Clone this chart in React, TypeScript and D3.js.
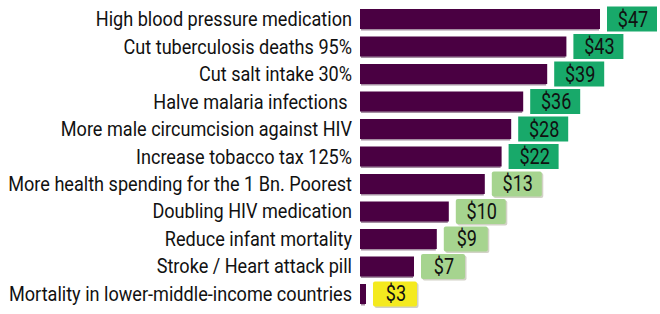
import React from "react";
import * as d3 from "d3";

const categories = [
  "High blood pressure medication",
  "Cut tuberculosis deaths 95%",
  "Cut salt intake 30%",
  "Halve malaria infections ",
  "More male circumcision against HIV",
  "Increase tobacco tax 125%",
  "More health spending for the 1 Bn. Poorest",
  "Doubling HIV medication",
  "Reduce infant mortality",
  "Stroke / Heart attack pill",
  "Mortality in lower-middle-income countries",
];
const barValues = [100, 86, 78, 68, 63, 59, 52, 37, 32, 22.5, 2.5];
const returnValues = [47, 43, 39, 36, 28, 22, 13, 10, 9, 7, 3];
const returnTiers = ["high", "high", "high", "high", "high", "high", "mid", "mid", "mid", "mid", "low"];

const tierColor: Record<string, string> = {
  high: "#18a96a",
  mid: "#a6d48f",
  low: "#f4ea1f",
};

const W = 660;
const H = 314;
const FONT = "Roboto, 'Noto Sans', sans-serif";

export default function App() {
  const x = d3.scaleLinear().domain([0, 100]).range([360, 600]);
  const y = d3
    .scaleBand<string>()
    .domain(categories)
    .range([9, 304])
    .paddingInner(0.2727)
    .paddingOuter(0);
  const bw = y.bandwidth();

  return (
    <svg
      width={W}
      height={H}
      style={{ position: "absolute", left: 0, top: 0, background: "#fff" }}
      fontFamily={FONT}
    >
      {categories.map((c, i) => {
        const y0 = y(c)!;
        const cy = y0 + bw / 2;
        const x1 = x(barValues[i]);
        const label = "$" + returnValues[i];
        const boxW = label.length > 2 ? 50 : 44;
        const boxH = 25;
        const bx = x1 + 7;
        const by = cy - boxH / 2;
        return (
          <g key={c}>
            <g transform={`translate(352, ${cy + 7}) scale(0.862, 1)`}>
              <text textAnchor="end" fontSize={21} fill="#111" style={{ whiteSpace: "pre" }}>
                {c}
              </text>
            </g>
            <rect x={x(0) + 1} y={y0 + 1.5} width={Math.max(0, x1 - x(0) - 2)} height={bw} fill="#a58fa2" />
            <rect x={x(0)} y={y0} width={x1 - x(0)} height={bw} fill="#4a0042" />
            {returnTiers[i] !== "high" && (
              <rect x={bx + 1.5} y={by + 1.5} width={boxW} height={boxH} rx={2} fill="#d2d2c6" />
            )}
            <rect x={bx} y={by} width={boxW} height={boxH} rx={returnTiers[i] === "high" ? 0 : 2} fill={tierColor[returnTiers[i]]} />
            <g transform={`translate(${bx + boxW / 2 + 1}, ${cy + 7.5}) scale(0.84, 1)`}>
              <text textAnchor="middle" fontSize={21.5} fill="#111">
                {label}
              </text>
            </g>
          </g>
        );
      })}
    </svg>
  );
}
